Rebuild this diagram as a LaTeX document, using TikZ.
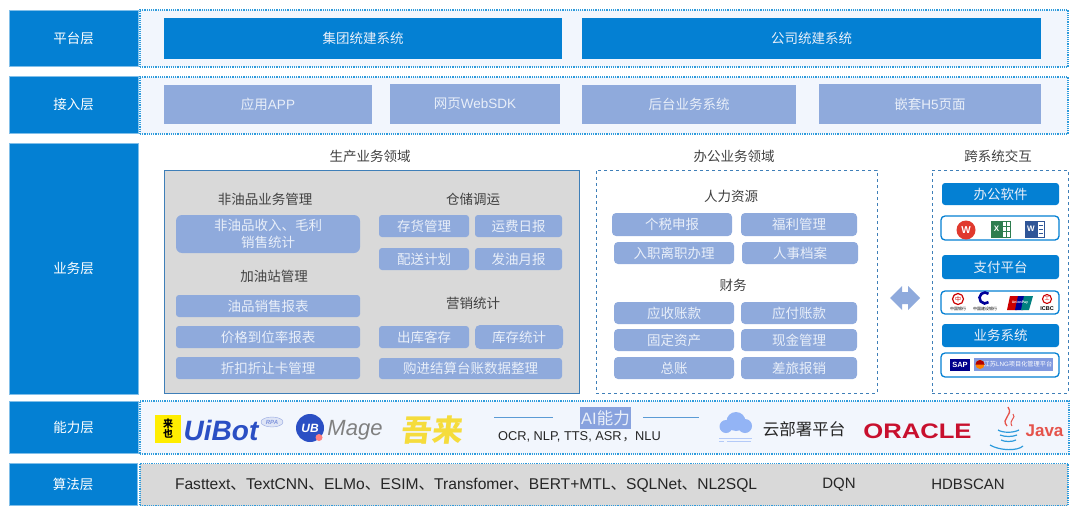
\documentclass[tikz,border=0pt]{standalone}
\usepackage{fontspec}
\setmainfont{Noto Sans CJK SC}
\newfontfamily\lat{Liberation Sans}
\newfontfamily\oraclefont[FakeStretch=1.22]{Liberation Sans}
\usetikzlibrary{shapes.geometric}
\definecolor{layerblue}{HTML}{0480D3}
\definecolor{tileblue}{HTML}{8FAADC}
\definecolor{panelfill}{HTML}{F2F6FD}
\definecolor{dotblue}{HTML}{2E9BDC}
\definecolor{dashblue}{HTML}{3F7FB8}
\definecolor{lineblue}{HTML}{5B9BD5}
\definecolor{grayfill}{HTML}{D9D9D9}
\definecolor{tiletext}{HTML}{E9EFF9}
\definecolor{titletext}{HTML}{404040}
\definecolor{uibotblue}{HTML}{2B4FC4}
\definecolor{oraclered}{HTML}{C8102E}
\definecolor{javared}{HTML}{E5534B}
\definecolor{wulaiyellow}{HTML}{F5DC3C}
\definecolor{cloudblue}{HTML}{93B4F5}
\definecolor{wpsred}{HTML}{E0392E}
\definecolor{excelgreen}{HTML}{2E7D4F}
\definecolor{wordblue}{HTML}{2F5597}
\newcommand{\fs}[1]{\fontsize{#1}{#1}\selectfont}

\begin{document}
\begin{tikzpicture}[
    x=1pt, y=-1pt,
    every node/.style={font=\fs{13.5}, inner sep=0pt, outer sep=0pt, align=center},
    layer/.style={fill=layerblue, text=white, draw=layerblue!50!white, line width=0.4},
    panel/.style={draw=dotblue, densely dotted, line width=1.2, fill=panelfill},
    tile/.style={fill=tileblue, text=tiletext, rounded corners=3},
    flat/.style={fill=tileblue, text=tiletext},
    title/.style={text=titletext},
    blue tile/.style={fill=layerblue, text=tiletext, rounded corners=3},
    icon box/.style={draw=layerblue, line width=1.3, fill=white, rounded corners=4},
    dashbox/.style={draw=dashblue, dashed, line width=0.9}
]
\useasboundingbox (0,0) rectangle (1080,514);

% Layers
\node[layer, minimum width=129, minimum height=56] (platform) at (73.5,38) {平台层};
\node[layer, minimum width=129, minimum height=57] (access) at (73.5,104.5) {接入层};
\node[layer, minimum width=129, minimum height=251] (business) at (73.5,268.5) {业务层};
\node[layer, minimum width=129, minimum height=52] (ability) at (73.5,427) {能力层};
\node[layer, minimum width=128, minimum height=42] (algorithm) at (73,484.5) {算法层};

% Panels
\node[panel, minimum width=928, minimum height=57] (platformpanel) at (604,38.5) {};
\node[panel, minimum width=928, minimum height=57] (accesspanel) at (604,105.5) {};
\node[panel, minimum width=929, minimum height=53] (abilitypanel) at (604.5,427.5) {};
\node[panel, fill=grayfill, minimum width=928, minimum height=42] (algorithmpanel) at (604,484.5) {};

% Platform and access
\node[fill=layerblue, text=tiletext, minimum width=398, minimum height=41] (groupsys) at (363,38.5) {集团统建系统};
\node[fill=layerblue, text=tiletext, minimum width=459, minimum height=41] (companysys) at (811.5,38.5) {公司统建系统};
\node[flat, minimum width=208, minimum height=39] (app) at (268,104.5) {应用{\lat APP}};
\node[flat, minimum width=170, minimum height=40] (websdk) at (475,104) {网页{\lat WebSDK}};
\node[flat, minimum width=214, minimum height=39] (backend) at (689,104.5) {后台业务系统};
\node[flat, minimum width=222, minimum height=40] (hfive) at (930,104) {嵌套{\lat H5}页面};

% Domain titles
\node[title] (prodtitle) at (370,156) {生产业务领域};
\node[title] (officetitle) at (734,156) {办公业务领域};
\node[title] (crosstitle) at (998,156) {跨系统交互};

% Production domain
\node[draw=dashblue, line width=1, fill=grayfill, minimum width=415, minimum height=223] (prodpanel) at (372,281.5) {};
\node[title] (nonoil) at (265,199) {非油品业务管理};
\node[tile, rounded corners=6, minimum width=184, minimum height=38] (nonoilstat) at (268,234) {非油品收入、毛利\\[3pt]销售统计};
\node[title] (station) at (274,276) {加油站管理};
\node[tile, minimum width=184, minimum height=22] (oilreport) at (268,306) {油品销售报表};
\node[tile, minimum width=184, minimum height=22] (pricereport) at (268,337) {价格到位率报表};
\node[tile, minimum width=184, minimum height=22] (discount) at (268,368) {折扣折让卡管理};
\node[title] (storage) at (473,199) {仓储调运};
\node[tile, minimum width=90, minimum height=22] (stock) at (424,226) {存货管理};
\node[tile, minimum width=87, minimum height=22] (freight) at (518.5,226) {运费日报};
\node[tile, minimum width=90, minimum height=22] (delivery) at (424,259) {配送计划};
\node[tile, minimum width=87, minimum height=22] (monthly) at (518.5,259) {发油月报};
\node[title] (marketing) at (473,303) {营销统计};
\node[tile, minimum width=90, minimum height=22] (outbound) at (424,337) {出库客存};
\node[tile, rounded corners=5, minimum width=88, minimum height=24] (inventory) at (519,337) {库存统计};
\node[tile, minimum width=183, minimum height=21] (ledger) at (470.5,368.5) {购进结算台账数据整理};

% Office domain
\node[dashbox, minimum width=281, minimum height=223] (officepanel) at (736.5,281.5) {};
\node[title] (hr) at (731,196) {人力资源};
\node[tile, rounded corners=4, minimum width=120, minimum height=23] (tax) at (672,224.5) {个税申报};
\node[tile, rounded corners=4, minimum width=116, minimum height=23] (welfare) at (799,224.5) {福利管理};
\node[tile, rounded corners=4, minimum width=120, minimum height=22] (onboard) at (674,253) {入职离职办理};
\node[tile, rounded corners=4, minimum width=116, minimum height=22] (archive) at (800,253) {人事档案};
\node[title] (finance) at (733,285) {财务};
\node[tile, rounded corners=4, minimum width=120, minimum height=22] (receive) at (674,313) {应收账款};
\node[tile, rounded corners=4, minimum width=116, minimum height=22] (payable) at (799,313) {应付账款};
\node[tile, rounded corners=4, minimum width=120, minimum height=22] (assets) at (674,340) {固定资产};
\node[tile, rounded corners=4, minimum width=116, minimum height=22] (cash) at (799,340) {现金管理};
\node[tile, rounded corners=4, minimum width=120, minimum height=22] (ledgerall) at (674,368) {总账};
\node[tile, rounded corners=4, minimum width=116, minimum height=22] (travel) at (799,368) {差旅报销};

% Double arrow
\fill[tileblue] (890,298) -- (902,286) -- (902,292) -- (908,292) -- (908,286) -- (920,298) -- (908,310) -- (908,304) -- (902,304) -- (902,310) -- cycle;

% Cross system
\node[dashbox, minimum width=136, minimum height=223] (crosspanel) at (1000,281.5) {};
\node[blue tile, minimum width=117, minimum height=22] (officesw) at (1000.5,194) {办公软件};
\node[icon box, minimum width=118, minimum height=24] (officeicons) at (1000,228) {};
\node[blue tile, minimum width=117, minimum height=24] (payplat) at (1000.5,267) {支付平台};
\node[icon box, minimum width=118, minimum height=23] (payicons) at (1000,302.5) {};
\node[blue tile, minimum width=117, minimum height=23] (bizsys) at (1000.5,335.5) {业务系统};
\node[icon box, minimum width=118, minimum height=24] (bizicons) at (1000,365) {};

% Office icons
\node[circle, fill=wpsred, text=white, minimum size=19, font=\lat\bfseries\fs{10}] (wps) at (966,230) {W};
\node[fill=excelgreen, text=white, minimum width=12, minimum height=17, font=\lat\bfseries\fs{8}] (excel) at (996.5,229) {X};
\draw[excelgreen, line width=0.6] (1002.5,221) rectangle (1010,237);
\draw[excelgreen, line width=0.5] (1002.5,226) -- (1010,226) (1002.5,231) -- (1010,231) (1006,221) -- (1006,237);
\node[fill=wordblue, text=white, minimum width=12, minimum height=17, font=\lat\bfseries\fs{8}] (word) at (1031,229) {W};
\draw[wordblue, line width=0.5] (1037,221) rectangle (1044,237);
\draw[wordblue, line width=0.4] (1038.5,225) -- (1043,225) (1038.5,229) -- (1043,229) (1038.5,233) -- (1043,233);

% Payment icons
\node[circle, draw=red!80!black, line width=1.2, minimum size=11, font=\fs{6}, text=red!80!black] (bocicon) at (958,299) {中};
\node[font=\fs{4}, text=black] (boctext) at (958,309) {中国银行};
\draw[blue!60!black, line width=2.6] (988.5,302.2) arc[start angle=50, end angle=310, radius=5.5];
\node[font=\fs{4}, text=black] (ccbtext) at (985,309) {中国建设银行};
\fill[red!80!black] (1010,296) -- (1021,296) -- (1017,310) -- (1007,310) -- cycle;
\fill[blue!60!black] (1018,296) -- (1026,296) -- (1023,310) -- (1015,310) -- cycle;
\fill[teal] (1024,296) -- (1033,296) -- (1029,310) -- (1021,310) -- cycle;
\node[text=white, font=\lat\bfseries\fs{3.5}] (unionpay) at (1020,303) {UnionPay};
\node[circle, draw=red!80!black, line width=1.1, minimum size=9, font=\fs{5}, text=red!80!black] (icbcicon) at (1047,299) {工};
\node[font=\lat\bfseries\fs{5.5}, text=black] (icbctext) at (1047,308.5) {ICBC};

% Business icons
\node[fill=blue!55!black, text=white, minimum width=20, minimum height=12, font=\lat\bfseries\fs{7.5}] (sap) at (960,365) {SAP};
\node[fill=tileblue!90!blue, text=white, minimum width=79, minimum height=13, font=\fs{6.2}] (lng) at (1013.5,364.5) {\hspace{9pt}江苏{\lat LNG}项目化管理平台};
\fill[orange] (980,364.5) circle[radius=4.5];
\fill[red!70!black] (975.5,364.5) arc[start angle=180, end angle=360, radius=4.5] -- cycle;

% Ability logos
\node[fill=yellow!95!orange, minimum width=26, minimum height=28, font=\bfseries\fs{10}, text=black] (laiye) at (168,429) {来\\也};
\node[text=uibotblue, font=\lat\bfseries\itshape\fs{28}] (uibot) at (221,430) {UiBot};
\node[ellipse, draw=uibotblue!50!white, fill=uibotblue!15!white, minimum width=22, minimum height=10, text=uibotblue!60!white, font=\lat\bfseries\itshape\fs{6}] (rpa) at (272,422) {RPA};
\node[circle, fill=uibotblue, text=white, minimum size=28, font=\lat\bfseries\itshape\fs{12}] (ub) at (310,428) {UB};
\fill[red!50!white] (319,437.5) circle[radius=3.5];
\node[text=gray, font=\lat\itshape\fs{22}] (mage) at (355,430) {Mage};
\node[text=wulaiyellow, shift={(433,430)}, xslant=0.12, xscale=1.03, transform shape, font=\bfseries\fs{30}] (wulai) at (0,0) {吾来};

\coordinate (ailineleft) at (494,417);
\coordinate (ailineleftend) at (553,417);
\coordinate (ailineright) at (643,417);
\coordinate (ailinerightend) at (699,417);
\draw[lineblue, line width=1] (ailineleft) -- (ailineleftend);
\draw[lineblue, line width=1] (ailineright) -- (ailinerightend);
\node[fill=tileblue!95!blue, text=tiletext, font=\fs{16.5}, minimum width=51, minimum height=22] (aititle) at (605.5,418) {{\lat AI}能力};
\node[text=black!85, font=\lat\fs{12.8}] (aitext) at (579.5,437) {OCR, NLP, TTS, ASR\hspace{1pt}{\fs{12.5}\rmfamily ，}NLU};

\fill[cloudblue] (726,426.5) circle[radius=6.5] (736,421.5) circle[radius=9.5] (745,426) circle[radius=7];
\draw[cloudblue!70!white, line width=1] (719,438) -- (752,438) (719,441) -- (724,441) (727,441) -- (751,441);
\node[text=black!85, font=\fs{16.5}] (clouddeploy) at (804,429) {云部署平台};
\node[text=oraclered, font=\oraclefont\bfseries\fs{21}] (oracle) at (917.5,431) {ORACLE};

\draw[javared, line width=1.3] (1007,426) .. controls (1000,418) and (1014,416) .. (1008,407);
\draw[javared, line width=1] (1012,426) .. controls (1008,420) and (1017,418) .. (1013,414);
\draw[dotblue, line width=1.2] (998,430) .. controls (1003,433) and (1013,433) .. (1019,430);
\draw[dotblue, line width=1.2] (1000,435) .. controls (1005,437) and (1012,437) .. (1017,435);
\draw[dotblue, line width=1.2] (1001,440) .. controls (1005,442) and (1012,442) .. (1016,440);
\draw[dotblue, line width=1.2] (990,445) .. controls (1000,451) and (1018,451) .. (1023,446);
\node[text=javared, font=\lat\bfseries\fs{17}] (java) at (1044.5,431) {Java};

% Algorithm text
\node[anchor=west, text=black!85, font=\fs{15.6}] (algos) at (175,485.5) {{\lat Fasttext}、{\lat TextCNN}、{\lat ELMo}、{\lat ESIM}、{\lat Transfomer}、{\lat BERT+MTL}、{\lat SQLNet}、{\lat NL2SQL}};
\node[text=black!85, font=\lat\fs{15}] (dqn) at (839,485) {DQN};
\node[text=black!85, font=\lat\fs{15}] (hdbscan) at (968,484) {HDBSCAN};

\end{tikzpicture}
\end{document}
